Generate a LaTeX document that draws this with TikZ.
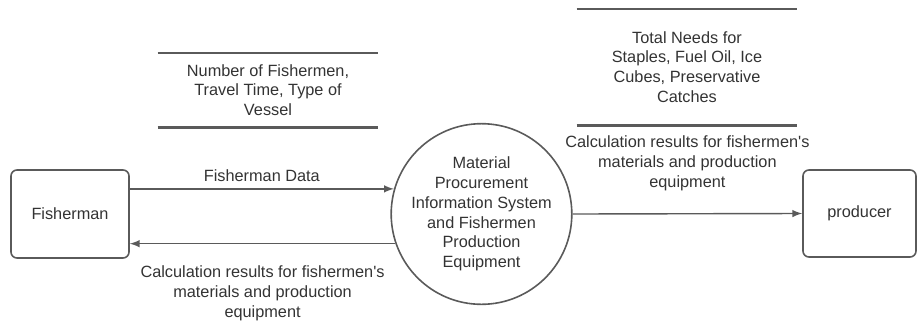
\documentclass[tikz,border=0pt]{standalone}
\usepackage{fontspec}
\setmainfont{Liberation Sans}
\usetikzlibrary{shapes,shapes.geometric,arrows,calc,positioning}
\definecolor{linegray}{HTML}{5A5A5A}
\definecolor{textgray}{HTML}{333333}

\begin{document}
\begin{tikzpicture}[x=0.5pt,y=-0.5pt,>=latex,
  every node/.style={text=textgray,font=\fontsize{8.15}{9.85}\selectfont,align=center},
  entity/.style={draw=linegray,line width=0.8pt,rounded corners=3pt,
    minimum width=59pt,minimum height=44pt},
  process/.style={circle,draw=linegray,line width=0.8pt,minimum size=89pt,inner sep=0pt},
  store/.style={minimum width=110pt,inner sep=0pt},
  flow/.style={draw=linegray,line width=0.7pt}]
  \useasboundingbox (0,0) rectangle (918,323);

  \node [entity]              (fisher) at (70,214)    {Fisherman};
  \node [process]             (proc)   at (481.5,214) {Material\\Procurement\\Information System\\and Fishermen\\Production\\Equipment};
  \node [entity,minimum width=56.5pt,minimum height=43.5pt]
                              (prod)   at (859.5,213.5) {producer};

  % data stores
  \node [store,minimum height=37pt] (storeA) at (268,90)
        {Number of Fishermen,\\Travel Time, Type of\\Vessel};
  \node [store,minimum height=58pt] (storeB) at (687,67)
        {Total Needs for\\Staples, Fuel Oil, Ice\\Cubes, Preservative\\Catches};
  \foreach \s in {storeA,storeB} {
    \draw [linegray,line width=1.1pt] (\s.north west) -- (\s.north east);
    \draw [linegray,line width=1.1pt] (\s.south west) -- (\s.south east);
  }

  % data flows
  \path[->] (fisher.east |- proc.164) edge [flow] node [above=0pt] (lblData) {Fisherman Data} (proc.164)
            (proc.199) edge [flow] node [below=7.5pt] (lblBack)
                 {Calculation results for fishermen\textquotesingle s\\materials and production\\equipment} (fisher.east |- proc.199)
            (proc.east) edge [flow] node [above=8pt] (lblOut)
                 {Calculation results for fishermen\textquotesingle s\\materials and production\\equipment} (prod.west);
\end{tikzpicture}
\end{document}
